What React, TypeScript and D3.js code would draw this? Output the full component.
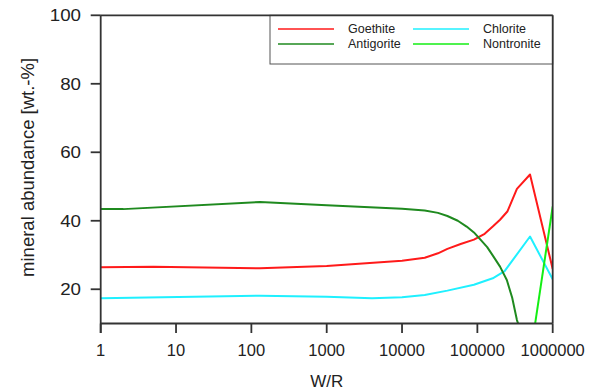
import React from 'react';
import * as d3 from 'd3';

// W/R sample points and mineral abundances (wt.-%)
const goethiteWR = [1, 5, 130, 1000, 10000, 20000, 30000, 40000, 60000, 90000, 125000, 160000, 200000, 250000, 335000, 500000, 1000000];
const goethite = [26.4, 26.6, 26.1, 26.8, 28.3, 29.2, 30.5, 31.8, 33.2, 34.5, 36.2, 38.3, 40.3, 42.7, 49.3, 53.5, 25.9];

const chloriteWR = [1, 130, 1000, 4000, 10000, 20000, 40000, 90000, 160000, 230000, 500000, 1000000];
const chlorite = [17.4, 18.1, 17.8, 17.4, 17.7, 18.3, 19.6, 21.3, 23.2, 25.3, 35.4, 22.9];

const antigoriteWR = [1, 2, 130, 1000, 10000, 20000, 30000, 40000, 55000, 72000, 90000, 110000, 135000, 163000, 200000, 246000, 290000, 335000, 500000];
const antigorite = [43.4, 43.4, 45.5, 44.5, 43.5, 43.0, 42.3, 41.4, 40.0, 38.3, 36.6, 34.5, 32.3, 29.6, 26.6, 22.7, 17.5, 11, 0];

const nontroniteWR = [500000, 1000000];
const nontronite = [0, 44.2];

const xTicks = [1, 10, 100, 1000, 10000, 100000, 1000000];
const yTicks = [20, 40, 60, 80, 100];

const series = [
  { name: 'Goethite', color: '#ff1a1a', wr: goethiteWR, values: goethite },
  { name: 'Chlorite', color: '#1ff0ff', wr: chloriteWR, values: chlorite },
  { name: 'Antigorite', color: '#1f8a1f', wr: antigoriteWR, values: antigorite },
  { name: 'Nontronite', color: '#14ee14', wr: nontroniteWR, values: nontronite },
];

const font = '"Liberation Sans", Arial, sans-serif';

const App = () => {
  const width = 596;
  const height = 391;
  const left = 100.7;
  const right = 552.7;
  const top = 15.3;
  const bottom = 323.5;

  const x = d3.scaleLog().domain([1, 1000000]).range([left, right]);
  const y = d3.scaleLinear().domain([10, 100]).range([bottom, top]);

  const line = d3.line<[number, number]>()
    .x(d => x(d[0]))
    .y(d => y(d[1]));

  const axisColor = '#333';

  // legend box sits in the top right corner of the frame
  const legend = { x0: 270, y0: top, x1: right, y1: 64 };
  const legendItems = [
    { s: series[0], col: 0, row: 0 },
    { s: series[1], col: 1, row: 0 },
    { s: series[2], col: 0, row: 1 },
    { s: series[3], col: 1, row: 1 },
  ];

  return (
    <svg width={width} height={height} style={{ position: 'absolute', left: 0, top: 0, background: '#fff' }}>
      <defs>
        <clipPath id="plot">
          <rect x={left} y={top} width={right - left} height={bottom - top} />
        </clipPath>
      </defs>

      <g clipPath="url(#plot)">
        {series.map(s => (
          <path
            key={s.name}
            d={line(s.wr.map((w, i) => [w, s.values[i]] as [number, number])) || ''}
            fill="none"
            stroke={s.color}
            strokeWidth={2}
            strokeLinejoin="round"
          />
        ))}
      </g>

      {/* legend */}
      <rect
        x={legend.x0}
        y={legend.y0}
        width={legend.x1 - legend.x0}
        height={legend.y1 - legend.y0}
        fill="#fff"
        stroke="#555"
        strokeWidth={1}
      />
      {legendItems.map(({ s, col, row }) => {
        const lx = 278 + col * 135;
        const ly = 29 + row * 15;
        return (
          <g key={s.name}>
            <line x1={lx} x2={lx + 56} y1={ly} y2={ly} stroke={s.color} strokeWidth={1.6} />
            <text x={lx + 70} y={ly + 4.3} fontFamily={font} fontSize={12.5} fill="#222">
              {s.name}
            </text>
          </g>
        );
      })}

      {/* frame */}
      <line x1={left} x2={right} y1={top} y2={top} stroke={axisColor} strokeWidth={1.8} />
      <line x1={right} x2={right} y1={top} y2={bottom} stroke={axisColor} strokeWidth={1.8} />
      <line x1={left} x2={left} y1={top} y2={bottom + 9.5} stroke={axisColor} strokeWidth={1.8} />
      <line x1={left} x2={right} y1={bottom} y2={bottom} stroke={axisColor} strokeWidth={1.8} />

      {/* y axis */}
      {yTicks.map(t => (
        <g key={t}>
          <line x1={left - 10} x2={left} y1={y(t)} y2={y(t)} stroke={axisColor} strokeWidth={1.8} />
          <text
            transform={`translate(81,${y(t) + 5.9}) scale(1.15,1)`}
            textAnchor="end"
            fontFamily={font}
            fontSize={16.3}
            fill="#222"
          >
            {t}
          </text>
        </g>
      ))}
      <text
        transform={`translate(33.5,${(top + bottom) / 2 - 2}) rotate(-90)`}
        textAnchor="middle"
        fontFamily={font}
        fontSize={18.5}
        fill="#222"
      >
        mineral abundance [wt.-%]
      </text>

      {/* x axis */}
      {xTicks.map(t => (
        <g key={t}>
          <line x1={x(t)} x2={x(t)} y1={bottom} y2={bottom + 9.5} stroke={axisColor} strokeWidth={1.8} />
          <text x={x(t)} y={356} textAnchor="middle" fontFamily={font} fontSize={16.5} fill="#222">
            {t}
          </text>
        </g>
      ))}
      <text x={(left + right) / 2} y={387} textAnchor="middle" fontFamily={font} fontSize={17} fill="#222">
        W/R
      </text>
    </svg>
  );
};

export default App;
